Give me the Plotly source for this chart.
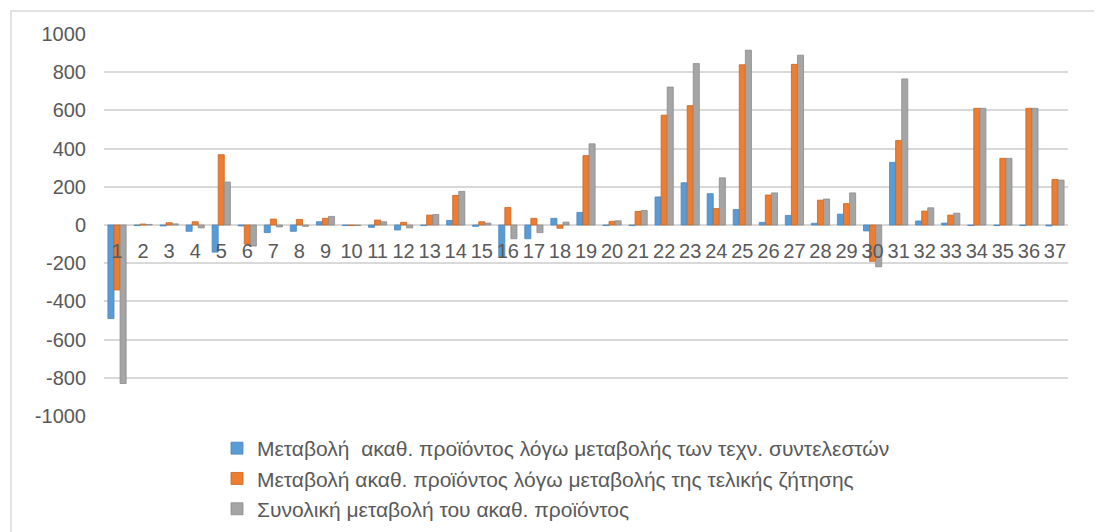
import plotly.graph_objects as go

categories = [str(i) for i in range(1, 38)]

tech_coef = [-490, -3, -5, -33, -142, -5, -40, -33, 17, -3,
             -12, -26, -3, 24, -7, -164, -72, 35, 66, -3,
             -3, 147, 221, 164, 81, 14, 50, 9, 57, -31,
             328, 21, 10, -3, -3, -3, -5]
final_demand = [-340, 5, 12, 17, 368, -100, 31, 29, 35, -3,
                26, 14, 52, 155, 17, 92, 35, -17, 363, 19,
                71, 575, 625, 86, 839, 157, 841, 130, 112, -190,
                442, 73, 52, 611, 349, 611, 238]
total_change = [-830, 3, 6, -15, 225, -110, -10, -7, 45, -3,
                17, -15, 55, 176, 10, -72, -40, 15, 425, 22,
                76, 722, 845, 247, 915, 168, 889, 136, 168, -219,
                765, 90, 62, 611, 349, 611, 235]

series_names = [
    "Μεταβολή\u00a0 ακαθ. προϊόντος λόγω μεταβολής των τεχν. συντελεστών",
    "Μεταβολή ακαθ. προϊόντος λόγω μεταβολής της τελικής ζήτησης",
    "Συνολική μεταβολή του ακαθ. προϊόντος",
]
colors = ["#5B9BD5", "#ED7D31", "#A5A5A5"]
edge_colors = ["#4A86BE", "#C9651F", "#8C8C8C"]
y_ticks = [-1000, -800, -600, -400, -200, 0, 200, 400, 600, 800, 1000]
y_tick_labels = ["-1000", "-800", "-600", "-400", "-200", "0",
                 "200", "400", "600", "800", "1000"]

fig = go.Figure()
for name, vals, col, ec in zip(series_names, [tech_coef, final_demand, total_change], colors, edge_colors):
    fig.add_trace(go.Bar(
        x=categories, y=vals, name=name,
        marker=dict(color=col, line=dict(color=ec, width=0.8)),
    ))

font_family = "Arial, Liberation Sans, sans-serif"
text_color = "#595959"

# the page body adds an 8px offset, so the figure is sized to fit the window
W, H = 1094, 524
L, R, T, B = 96, 34, 26, 116
pw, ph = W - L - R, H - T - B

fig.update_layout(
    template="none",
    width=W, height=H,
    margin=dict(l=L, r=R, t=T, b=B, pad=0, autoexpand=False),
    paper_bgcolor="white", plot_bgcolor="white",
    barmode="group", bargap=0.3, bargroupgap=0,
    font=dict(family=font_family, size=20, color=text_color),
    showlegend=True,
    legend=dict(
        orientation="v", xref="container", yref="container",
        x=209 / W, xanchor="left",
        y=1 - 420 / H, yanchor="top",
        font=dict(family=font_family, size=21, color=text_color),
        tracegroupgap=0, traceorder="normal",
        bgcolor="rgba(0,0,0,0)", borderwidth=0,
    ),
    xaxis=dict(
        type="category", anchor="free", position=0.5,
        showgrid=False, zeroline=False, showline=False,
        ticks="", ticklabelstandoff=12, automargin=False,
        tickfont=dict(family=font_family, size=20, color=text_color),
        layer="above traces",
    ),
    yaxis=dict(
        range=[-1000, 1000], tickvals=y_ticks, ticktext=y_tick_labels,
        automargin=False,
        showgrid=True, gridcolor="#D9D9D9", gridwidth=1.5,
        zeroline=True, zerolinecolor="#D9D9D9", zerolinewidth=1.5,
        showline=False, ticks="", ticklabelstandoff=17,
        tickfont=dict(family=font_family, size=20, color=text_color),
    ),
    shapes=[dict(
        type="rect", xref="paper", yref="paper",
        x0=(3 - L) / pw, x1=1.2,
        y0=-0.6, y1=(T + ph - 3) / ph,
        line=dict(color="#D9D9D9", width=1.5),
        fillcolor="rgba(0,0,0,0)", layer="below",
    )],
)

fig.write_html("out.html")
